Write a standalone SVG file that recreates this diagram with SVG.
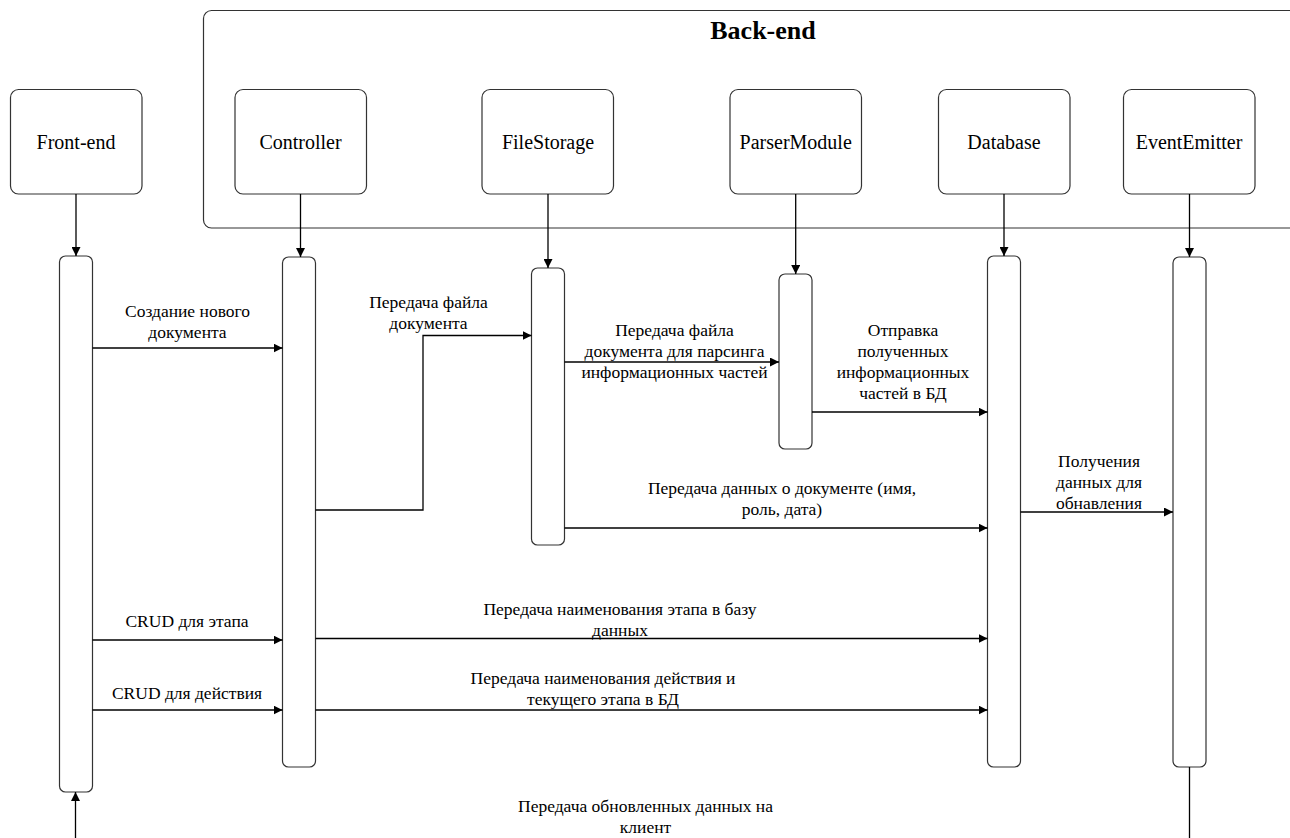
<svg xmlns="http://www.w3.org/2000/svg" width="1290" height="838" viewBox="0 0 1290 838">
<defs>
<marker id="arr" viewBox="0 0 10 10" refX="10" refY="5" markerWidth="9" markerHeight="9" markerUnits="userSpaceOnUse" orient="auto">
<path d="M0,0 L10,5 L0,10 z" fill="#000"/>
</marker>
<style>
.box{fill:#fff;stroke:#333;stroke-width:1.2}
.bar{fill:#fff;stroke:#333;stroke-width:1.2}
.ln{fill:none;stroke:#000;stroke-width:1.3}
text{font-family:'Liberation Serif',Tinos,'Times New Roman','DejaVu Serif',serif;fill:#000;text-anchor:middle}
.nt{font-size:20px}
.mt{font-size:17.5px}
.tt{font-size:26px;font-weight:bold}
</style>
</defs>
<rect width="1290" height="838" fill="#fff"/>
<g id="backend">
<rect class="box" x="203.5" y="10.5" width="1100" height="217.5" rx="8"/>
<text class="tt" x="763" y="39">Back-end</text>
</g>
<g id="frontend">
<rect class="box" x="10.5" y="89.5" width="131.5" height="104.5" rx="8"/>
<text class="nt" x="76" y="149">Front-end</text>
<rect class="bar" x="59.5" y="256" width="33" height="536" rx="6"/>
</g>
<g id="controller">
<rect class="box" x="235" y="89.5" width="131.5" height="104.5" rx="8"/>
<text class="nt" x="300.5" y="149">Controller</text>
<rect class="bar" x="282.5" y="257" width="33" height="510" rx="6"/>
</g>
<g id="filestorage">
<rect class="box" x="482" y="89.5" width="131.5" height="104.5" rx="8"/>
<text class="nt" x="548" y="149">FileStorage</text>
<rect class="bar" x="531.5" y="268" width="33" height="277" rx="6"/>
</g>
<g id="parsermodule">
<rect class="box" x="730" y="89.5" width="131.5" height="104.5" rx="8"/>
<text class="nt" x="795.7" y="149">ParserModule</text>
<rect class="bar" x="779" y="274" width="33" height="175" rx="6"/>
</g>
<g id="database">
<rect class="box" x="938.5" y="89.5" width="131.5" height="104.5" rx="8"/>
<text class="nt" x="1004" y="149">Database</text>
<rect class="bar" x="987.5" y="256" width="33" height="511" rx="6"/>
</g>
<g id="eventemitter">
<rect class="box" x="1123.5" y="89.5" width="131.5" height="104.5" rx="8"/>
<text class="nt" x="1189" y="149">EventEmitter</text>
<rect class="bar" x="1173" y="257" width="33" height="510" rx="6"/>
</g>
<g id="connectors">
<line class="ln" x1="76" y1="194" x2="76" y2="256" marker-end="url(#arr)"/>
<line class="ln" x1="300.5" y1="194" x2="300.5" y2="257" marker-end="url(#arr)"/>
<line class="ln" x1="548" y1="194" x2="548" y2="268" marker-end="url(#arr)"/>
<line class="ln" x1="795.7" y1="194" x2="795.7" y2="274" marker-end="url(#arr)"/>
<line class="ln" x1="1004" y1="194" x2="1004" y2="256" marker-end="url(#arr)"/>
<line class="ln" x1="1189.5" y1="194" x2="1189.5" y2="257" marker-end="url(#arr)"/>

<line class="ln" x1="92.5" y1="348" x2="282.5" y2="348" marker-end="url(#arr)"/>
<text class="mt" x="187.5" y="317">Создание нового</text>
<text class="mt" x="187.5" y="338">документа</text>

<polyline class="ln" points="315.5,510 423,510 423,335.5 531.5,335.5" marker-end="url(#arr)"/>
<text class="mt" x="428.5" y="308">Передача файла</text>
<text class="mt" x="428.5" y="329">документа</text>

<line class="ln" x1="564.5" y1="362" x2="779" y2="362" marker-end="url(#arr)"/>
<text class="mt" x="674.5" y="336">Передача файла</text>
<text class="mt" x="674.5" y="357">документа для парсинга</text>
<text class="mt" x="674.5" y="378">информационных частей</text>

<line class="ln" x1="812" y1="412" x2="987.5" y2="412" marker-end="url(#arr)"/>
<text class="mt" x="903" y="336">Отправка</text>
<text class="mt" x="903" y="357">полученных</text>
<text class="mt" x="903" y="378">информационных</text>
<text class="mt" x="903" y="399">частей в БД</text>

<line class="ln" x1="564.5" y1="528" x2="987.5" y2="528" marker-end="url(#arr)"/>
<text class="mt" x="782" y="494">Передача данных о документе (имя,</text>
<text class="mt" x="782" y="515">роль, дата)</text>

<line class="ln" x1="1020.5" y1="512" x2="1173" y2="512" marker-end="url(#arr)"/>
<text class="mt" x="1099" y="467">Получения</text>
<text class="mt" x="1099" y="488">данных для</text>
<text class="mt" x="1099" y="509">обнавления</text>

<line class="ln" x1="92.5" y1="640" x2="282.5" y2="640" marker-end="url(#arr)"/>
<text class="mt" x="187" y="627">CRUD для этапа</text>

<line class="ln" x1="315.5" y1="638.5" x2="987.5" y2="638.5" marker-end="url(#arr)"/>
<text class="mt" x="620" y="615">Передача наименования этапа в базу</text>
<text class="mt" x="620" y="636">данных</text>

<line class="ln" x1="92.5" y1="710" x2="282.5" y2="710" marker-end="url(#arr)"/>
<text class="mt" x="187" y="699">CRUD для действия</text>

<line class="ln" x1="315.5" y1="710" x2="987.5" y2="710" marker-end="url(#arr)"/>
<text class="mt" x="603" y="684">Передача наименования действия и</text>
<text class="mt" x="603" y="705">текущего этапа в БД</text>

<polyline class="ln" points="1189.5,767 1189.5,860 75.5,860 75.5,792" marker-end="url(#arr)"/>
<text class="mt" x="645.5" y="812">Передача обновленных данных на</text>
<text class="mt" x="645.5" y="833">клиент</text>
</g>
</svg>
